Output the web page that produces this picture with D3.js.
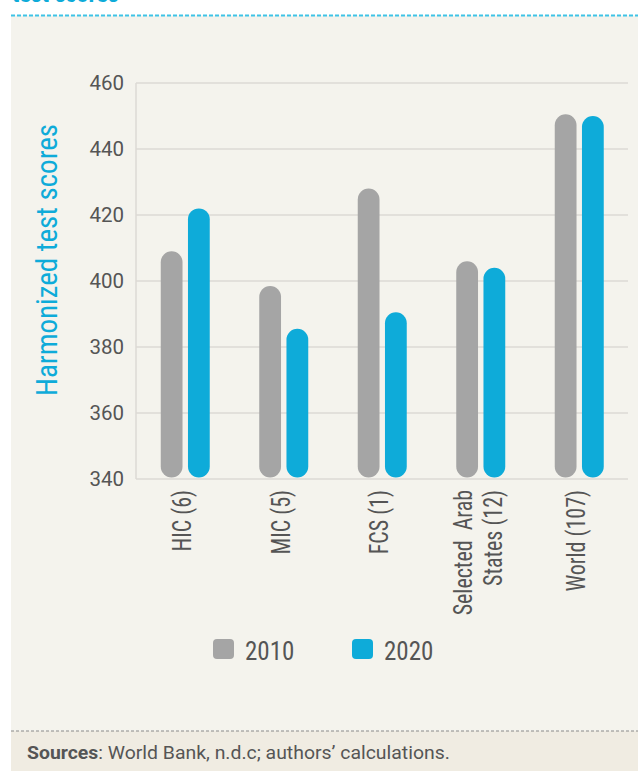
<!DOCTYPE html>
<html>
<head>
<meta charset="utf-8">
<script src="https://cdn.jsdelivr.net/npm/d3@7"></script>
<style>
  html, body { margin: 0; padding: 0; background: #ffffff; }
  svg { display: block; }
  text { font-family: 'Liberation Sans Narrow', 'Roboto Condensed', 'Arial Narrow', sans-serif; }
</style>
</head>
<body>
<svg id="chart" width="638" height="771"></svg>
<script>
const categories = ["HIC (6)", "MIC (5)", "FCS (1)", "Selected Arab States (12)", "World (107)"];
const categoryLines = [["HIC (6)"], ["MIC (5)"], ["FCS (1)"], ["Selected  Arab", "States (12)"], ["World (107)"]];
const seriesNames = ["2010", "2020"];
const values2010 = [409, 398.5, 428, 406, 450.5];
const values2020 = [422, 385.5, 390.5, 404, 450];
const yTicks = [340, 360, 380, 400, 420, 440, 460];
const colors = ["#a5a5a5", "#0eabd9"];

const svg = d3.select("#chart");

// panel backgrounds
svg.append("rect").attr("x", 11).attr("y", 15.5).attr("width", 640).attr("height", 715.5).attr("fill", "#f4f3ed");
svg.append("rect").attr("x", 11).attr("y", 731).attr("width", 640).attr("height", 40).attr("fill", "#f0ece2");
svg.append("line").attr("x1", 11).attr("x2", 638).attr("y1", 15.5).attr("y2", 15.5)
  .attr("stroke", "#3fc3e6").attr("stroke-width", 2).attr("stroke-dasharray", "4,2");
svg.append("line").attr("x1", 11).attr("x2", 638).attr("y1", 731).attr("y2", 731)
  .attr("stroke", "#8a8a8a").attr("stroke-width", 1).attr("stroke-dasharray", "3,2");

// partially visible title (cut off at the top, as in the reference)
svg.append("text").attr("x", 12).attr("y", 2).attr("fill", "#0eabd9")
  .attr("font-size", 24).attr("font-weight", "bold").text("test scores");

const x = d3.scaleBand().domain(categories).range([136, 628.5]).paddingInner(0).paddingOuter(0);
const y = d3.scaleLinear().domain([340, 460]).range([479, 83]);
const half = x.bandwidth() / 2;
const xs = d3.scaleBand().domain(seriesNames).range([half - 24.5, half + 24.5]).paddingInner(0.2).paddingOuter(0);

// gridlines
svg.append("g").selectAll("line").data(yTicks).join("line")
  .attr("x1", 136).attr("x2", 628)
  .attr("y1", d => y(d)).attr("y2", d => y(d))
  .attr("stroke", "#dcdad5").attr("stroke-width", 1.5);
svg.append("line").attr("x1", 136).attr("x2", 136).attr("y1", y(460)).attr("y2", y(340))
  .attr("stroke", "#dcdad5").attr("stroke-width", 1.5);

// y axis labels
const yAxis = d3.axisLeft(y).tickValues(yTicks).tickSize(0).tickPadding(12);
const yg = svg.append("g").attr("transform", "translate(136,0)").call(yAxis);
yg.select(".domain").remove();
yg.selectAll("text").attr("font-size", 20.5).attr("fill", "#555555")
  .style("font-family", "Roboto, 'Liberation Sans', sans-serif");

// y title
svg.append("text").attr("transform", "translate(57,260) rotate(-90)")
  .attr("text-anchor", "middle").attr("fill", "#0eabd9").attr("font-size", 29)
  .text("Harmonized test scores");

// bars
const data = [];
categories.forEach((c, i) => {
  data.push({ cat: c, s: "2010", v: values2010[i] });
  data.push({ cat: c, s: "2020", v: values2020[i] });
});
svg.append("g").selectAll("rect").data(data).join("rect")
  .attr("x", d => x(d.cat) + xs(d.s))
  .attr("width", xs.bandwidth())
  .attr("y", d => y(d.v))
  .attr("height", d => y(340) - y(d.v) - 1.5)
  .attr("rx", xs.bandwidth() / 2)
  .attr("fill", d => colors[seriesNames.indexOf(d.s)]);

// category labels
const cg = svg.append("g");
categories.forEach((c, i) => {
  const lines = categoryLines[i];
  const cx = x(c) + x.bandwidth() / 2;
  const lh = 30;
  const t = cg.append("text")
    .attr("transform", `translate(${cx},490) rotate(-90) scale(0.88,1)`)
    .attr("text-anchor", "end").attr("fill", "#555555").attr("font-size", 25);
  lines.forEach((l, j) => {
    t.append("tspan").attr("x", 0).attr("y", (j - (lines.length - 1) / 2) * lh + 6)
      .attr("xml:space", "preserve").text(l);
  });
});

// legend
const lg = svg.append("g");
const legX = [213, 352];
seriesNames.forEach((s, i) => {
  lg.append("rect").attr("x", legX[i]).attr("y", 639).attr("width", 21).attr("height", 20)
    .attr("rx", 4).attr("fill", colors[i]);
  lg.append("text").attr("x", legX[i] + 32).attr("y", 660)
    .attr("fill", "#555555").attr("font-size", 25).text(s);
});

// source
const src = svg.append("text").attr("transform", "translate(27,759) scale(1.11,1)")
  .attr("fill", "#555555").attr("font-size", 17.5)
  .style("font-family", "Roboto, 'Liberation Sans', sans-serif");
src.append("tspan").attr("font-weight", "bold").text("Sources");
src.append("tspan").text(": World Bank, n.d.c; authors\u2019 calculations.");
</script>
</body>
</html>
